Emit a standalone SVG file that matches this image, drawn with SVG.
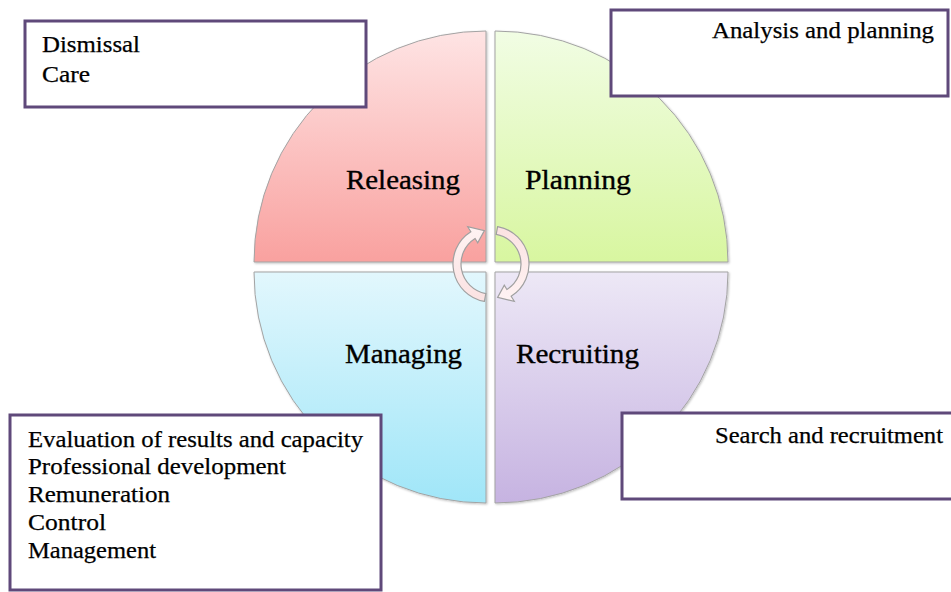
<svg xmlns="http://www.w3.org/2000/svg" width="951" height="592" viewBox="0 0 951 592">
<defs>
<linearGradient id="gRed" x1="0" y1="0" x2="0" y2="1"><stop offset="0" stop-color="#fee4e4"/><stop offset="1" stop-color="#f9a19f"/></linearGradient>
<linearGradient id="gGreen" x1="0" y1="0" x2="0" y2="1"><stop offset="0" stop-color="#f1fde4"/><stop offset="1" stop-color="#d8f6a0"/></linearGradient>
<linearGradient id="gBlue" x1="0" y1="0" x2="0" y2="1"><stop offset="0" stop-color="#e2f7fd"/><stop offset="1" stop-color="#a0e6f8"/></linearGradient>
<linearGradient id="gPurple" x1="0" y1="0" x2="0" y2="1"><stop offset="0" stop-color="#ede8f6"/><stop offset="1" stop-color="#c6b3e1"/></linearGradient>
<linearGradient id="gArrow" x1="0" y1="0" x2="0" y2="1"><stop offset="0" stop-color="#fff3f3"/><stop offset="1" stop-color="#fbe2e2"/></linearGradient>
<filter id="sh" x="-10%" y="-10%" width="120%" height="120%"><feDropShadow dx="1" dy="1" stdDeviation="1" flood-color="#000" flood-opacity="0.25"/></filter>
</defs>
<style>
.q{stroke:#a3a3a3;stroke-width:1;filter:url(#sh)}
.box{fill:#fff;stroke:#5f497a;stroke-width:3}
.t{font-family:'Liberation Serif',serif;font-size:23px;fill:#000;stroke:#000;stroke-width:0.25}
.ql{font-family:'Liberation Serif',serif;font-size:28px;fill:#000;stroke:#000;stroke-width:0.35}
.arr{fill:url(#gArrow);stroke:#a0a0a0;stroke-width:1.2}
</style>
<g id="releasing">
<path class="q" d="M486,262 L254,262 A232,231 0 0 1 486,31 Z" fill="url(#gRed)"/>
<text class="ql" x="346" y="189" textLength="114" lengthAdjust="spacingAndGlyphs">Releasing</text>
</g>
<g id="planning">
<path class="q" d="M495,262 L495,31 A233,231 0 0 1 728,262 Z" fill="url(#gGreen)"/>
<text class="ql" x="525" y="189" textLength="106" lengthAdjust="spacingAndGlyphs">Planning</text>
</g>
<g id="managing">
<path class="q" d="M486,272 L486,503 A232,231 0 0 1 254,272 Z" fill="url(#gBlue)"/>
<text class="ql" x="345" y="363" textLength="117" lengthAdjust="spacingAndGlyphs">Managing</text>
</g>
<g id="recruiting">
<path class="q" d="M495,272 L728,272 A233,231 0 0 1 495,503 Z" fill="url(#gPurple)"/>
<text class="ql" x="516" y="363" textLength="123" lengthAdjust="spacingAndGlyphs">Recruiting</text>
</g>
<g id="cycle-arrows">
<path class="arr" d="M484.40,301.42 A38,38 0 0 1 470.86,231.77 L467.7,226.7 L484.4,230.6 L477.7,242.8 L475.10,238.56 A30,30 0 0 0 485.79,293.54 Z"/>
<path class="arr" transform="rotate(180 491 264)" d="M484.40,301.42 A38,38 0 0 1 470.86,231.77 L467.7,226.7 L484.4,230.6 L477.7,242.8 L475.10,238.56 A30,30 0 0 0 485.79,293.54 Z"/>
</g>
<g id="box-releasing">
<rect class="box" x="25" y="21" width="341" height="86"/>
<text class="t" x="42" y="52" textLength="98" lengthAdjust="spacingAndGlyphs">Dismissal</text>
<text class="t" x="42" y="82" textLength="48" lengthAdjust="spacingAndGlyphs">Care</text>
</g>
<g id="box-planning">
<rect class="box" x="611" y="10" width="337" height="86"/>
<text class="t" x="712" y="38" textLength="222" lengthAdjust="spacingAndGlyphs">Analysis and planning</text>
</g>
<g id="box-managing">
<rect class="box" x="10" y="415" width="371" height="175"/>
<text class="t" x="28" y="447" textLength="335" lengthAdjust="spacingAndGlyphs">Evaluation of results and capacity</text>
<text class="t" x="28" y="474" textLength="258" lengthAdjust="spacingAndGlyphs">Professional development</text>
<text class="t" x="28" y="502" textLength="142" lengthAdjust="spacingAndGlyphs">Remuneration</text>
<text class="t" x="28" y="530" textLength="78" lengthAdjust="spacingAndGlyphs">Control</text>
<text class="t" x="28" y="558" textLength="128" lengthAdjust="spacingAndGlyphs">Management</text>
</g>
<g id="box-recruiting">
<rect class="box" x="622" y="413" width="340" height="86"/>
<text class="t" x="715" y="443" textLength="228" lengthAdjust="spacingAndGlyphs">Search and recruitment</text>
</g>
<g id="connectors"/>
</svg>
